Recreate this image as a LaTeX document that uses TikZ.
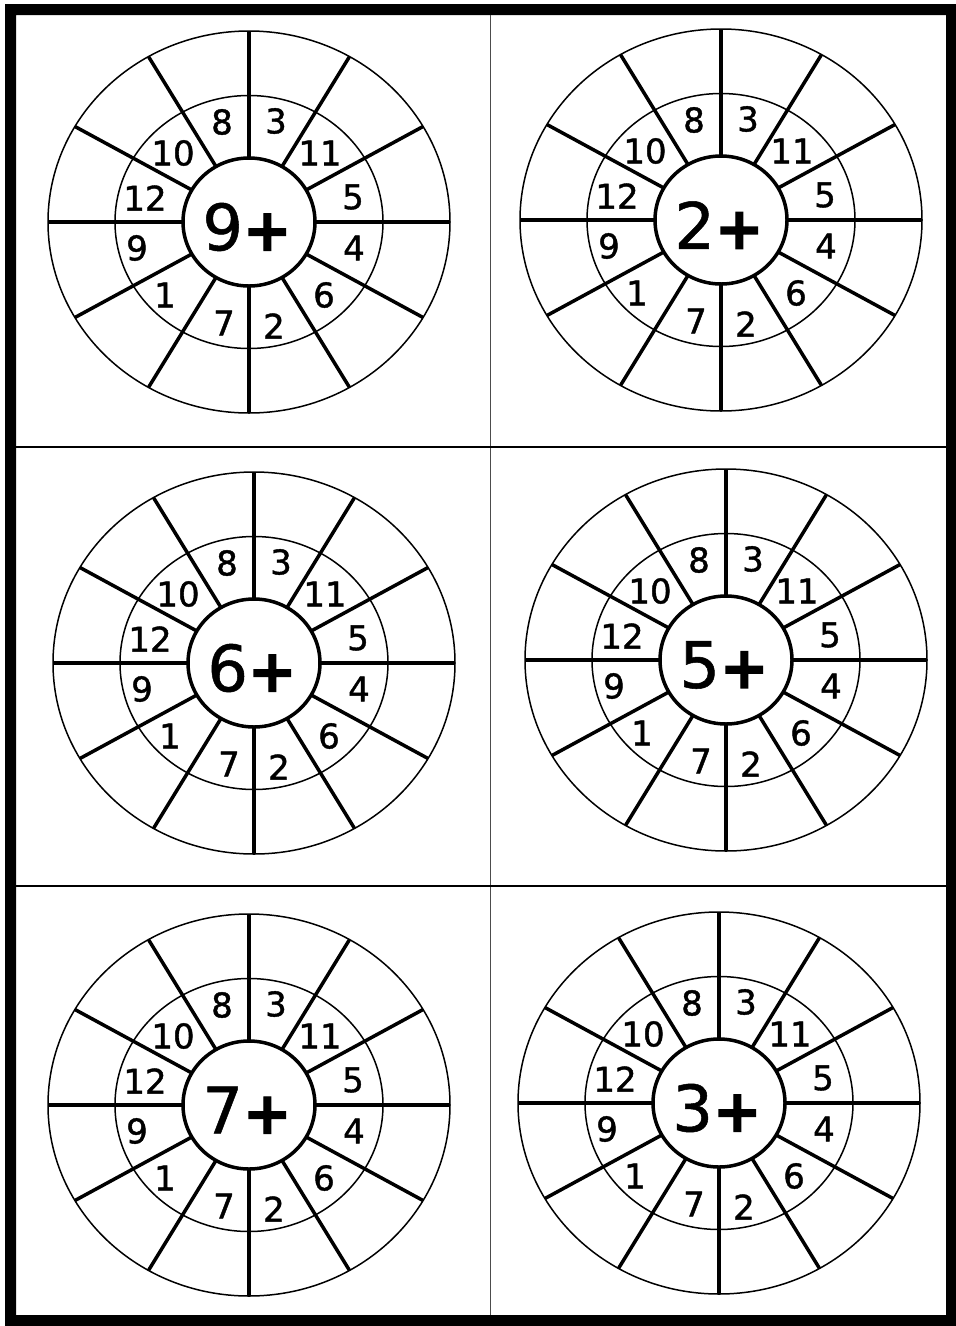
\documentclass[tikz,border=0pt]{standalone}
\usepackage{fontspec}
\setmainfont{DejaVu Sans}
\newfontfamily\numfont[FakeBold=1.2]{DejaVu Sans}
\newfontfamily\hubfont[FakeBold=0.8]{DejaVu Sans}
\newfontfamily\plusfont[FakeBold=2.5]{DejaVu Sans Bold}
\tikzset{
  ringline/.style={line width=1.5pt},
  spokeline/.style={line width=3.5pt},
  hubline/.style={line width=3.5pt},
  gridline/.style={line width=1.6pt},
  vgridline/.style={line width=1pt, black!70},
  numlabel/.style={inner sep=0pt, font=\numfont\fontsize{34}{34}\selectfont},
  hublabel/.style={inner sep=0pt, font=\hubfont\fontsize{64}{64}\selectfont},
}
\newcommand\mywheel[4]{%
  \begin{scope}[shift={(#2,#3)}]
    \draw[ringline] (0,0) ellipse [x radius=201, y radius=191];
    \draw[ringline] (0,0) ellipse [x radius=134, y radius=126.5];
    \foreach \a in {0,30,...,330}
      \draw[spokeline] (\a:66 and 64) -- (\a:201 and 191);
    \draw[hubline, fill=white] (0,0) ellipse [x radius=66, y radius=64];
    \node[hublabel] (#1hub) at (-2,5) {#4{\plusfont\fontsize{58}{58}\selectfont +}};
    \foreach \n/\dx/\dy in {8/-27/-100, 3/27/-101, 11/71/-69, 5/104/-25,
        4/105/26, 6/75/73, 2/25/104, 7/-25/101, 1/-84/73, 9/-112/26,
        12/-104/-24, 10/-76/-69}
      \node[numlabel] (#1n\n) at (\dx,\dy) {\n};
  \end{scope}}
\begin{document}
\begin{tikzpicture}[x=1pt,y=-1pt]
  \useasboundingbox (0,0) rectangle (956,1326);
  \fill[white] (0,0) rectangle (956,1326);
  % frame
  \fill[black, even odd rule] (5,4) rectangle (962,1332) (16,15) rectangle (946,1315);
  % grid
  \draw[vgridline] (490,15) -- (490,1315);
  \draw[gridline] (16,447) -- (946,447);
  \draw[gridline] (16,886) -- (946,886);
  % wheels
  \mywheel{a}{249}{222}{9}
  \mywheel{b}{721}{220}{2}
  \mywheel{c}{254}{663}{6}
  \mywheel{d}{726}{660}{5}
  \mywheel{e}{249}{1105}{7}
  \mywheel{f}{719}{1103}{3}
\end{tikzpicture}
\end{document}
